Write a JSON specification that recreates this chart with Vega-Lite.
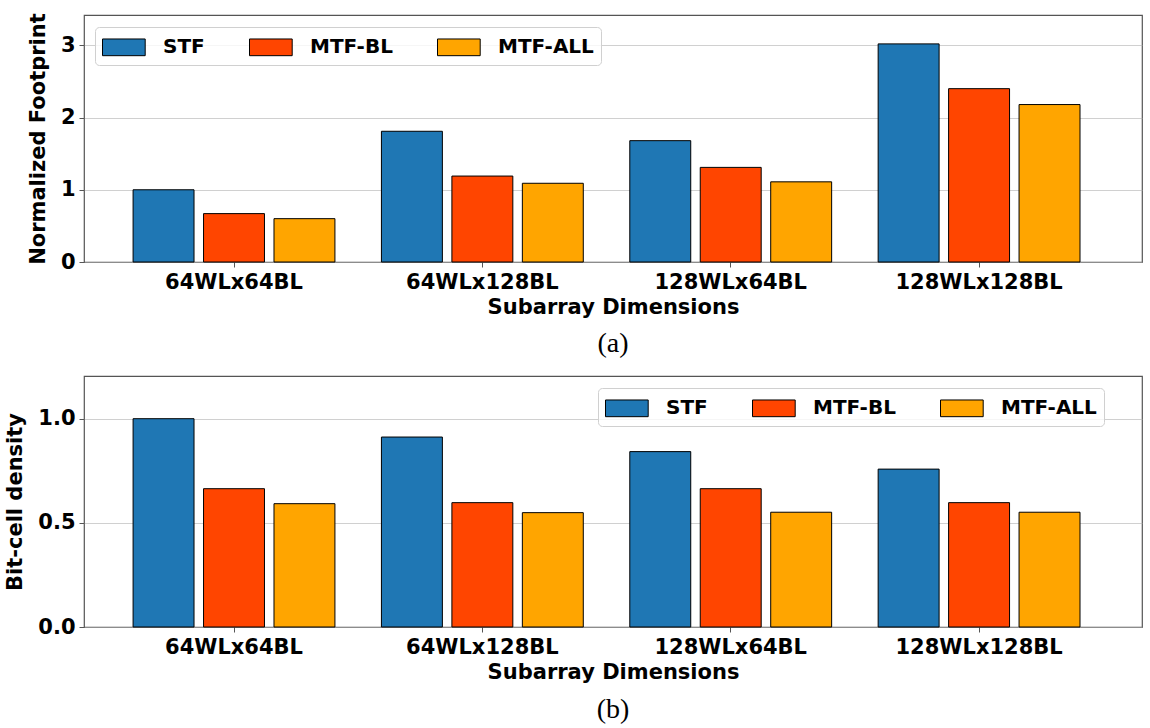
{
  "$schema": "https://vega.github.io/schema/vega-lite/v6.json",
  "padding": {"left": 4, "top": 12, "right": 5, "bottom": 5},
  "spacing": 16,
  "config": {
    "view": {"stroke": "#555", "strokeWidth": 1.2},
    "font": "DejaVu Sans",
    "axis": {
      "labelFont": "DejaVu Sans", "labelFontWeight": "bold", "labelFontSize": 21, "labelColor": "black",
      "titleFont": "DejaVu Sans", "titleFontWeight": "bold", "titleFontSize": 21, "titleColor": "black",
      "tickColor": "#555", "tickSize": 5, "labelPadding": 4, "titlePadding": 4, "domain": false
    },
    "axisX": {"grid": false, "labelAngle": 0},
    "axisY": {"grid": true, "gridColor": "#b0b0b0", "gridOpacity": 0.6, "zindex": 1, "titlePadding": 12},
    "legend": {
      "orient": "none", "direction": "horizontal", "title": null,
      "symbolType": "M-1,-0.668H2.416V0.668H-1Z", "symbolSize": 625,
      "symbolStrokeColor": "black", "symbolStrokeWidth": 1, "symbolOpacity": 1,
      "labelFont": "DejaVu Sans", "labelFontWeight": "bold", "labelFontSize": 20, "labelColor": "black",
      "labelOffset": 35, "columnPadding": 42, "padding": 7,
      "strokeColor": "#d0d0d0", "fillColor": "rgba(255,255,255,0.8)", "cornerRadius": 4, "zindex": 2
    },
    "title": {"font": "Liberation Serif", "fontSize": 28, "fontWeight": "normal", "color": "black", "orient": "bottom", "anchor": "middle"}
  },
  "vconcat": [
    {
      "width": 1058, "height": 247,
      "title": {"text": "(a)", "orient": "bottom", "offset": 13},
      "data": {"values": [
        {"dim": "64WLx64BL", "series": "STF", "value": 1.0},
        {"dim": "64WLx64BL", "series": "MTF-BL", "value": 0.67},
        {"dim": "64WLx64BL", "series": "MTF-ALL", "value": 0.60},
        {"dim": "64WLx128BL", "series": "STF", "value": 1.81},
        {"dim": "64WLx128BL", "series": "MTF-BL", "value": 1.19},
        {"dim": "64WLx128BL", "series": "MTF-ALL", "value": 1.09},
        {"dim": "128WLx64BL", "series": "STF", "value": 1.68},
        {"dim": "128WLx64BL", "series": "MTF-BL", "value": 1.31},
        {"dim": "128WLx64BL", "series": "MTF-ALL", "value": 1.11},
        {"dim": "128WLx128BL", "series": "STF", "value": 3.02},
        {"dim": "128WLx128BL", "series": "MTF-BL", "value": 2.40},
        {"dim": "128WLx128BL", "series": "MTF-ALL", "value": 2.18}
      ]},
      "mark": {"type": "bar", "stroke": "black", "strokeWidth": 1},
      "encoding": {
        "x": {"field": "dim", "type": "nominal", "sort": ["64WLx64BL", "64WLx128BL", "128WLx64BL", "128WLx128BL"],
              "scale": {"paddingInner": 0, "paddingOuter": 0.13, "align": 0.4},
              "axis": {"title": "Subarray Dimensions"}},
        "xOffset": {"field": "series", "type": "nominal", "sort": ["STF", "MTF-BL", "MTF-ALL"],
                    "scale": {"paddingInner": 0.135, "paddingOuter": 0.33}},
        "y": {"field": "value", "type": "quantitative", "scale": {"domain": [0, 3.42], "nice": false},
              "axis": {"values": [0, 1, 2, 3], "format": "d", "title": "Normalized Footprint"}},
        "color": {"field": "series", "type": "nominal", "sort": ["STF", "MTF-BL", "MTF-ALL"],
                  "scale": {"domain": ["STF", "MTF-BL", "MTF-ALL"], "range": ["#1f77b4", "#ff4500", "#ffa500"]},
                  "legend": {"legendX": 11, "legendY": 12}}
      }
    },
    {
      "width": 1058, "height": 251,
      "title": {"text": "(b)", "orient": "bottom", "offset": 14},
      "data": {"values": [
        {"dim": "64WLx64BL", "series": "STF", "value": 1.0},
        {"dim": "64WLx64BL", "series": "MTF-BL", "value": 0.664},
        {"dim": "64WLx64BL", "series": "MTF-ALL", "value": 0.592},
        {"dim": "64WLx128BL", "series": "STF", "value": 0.912},
        {"dim": "64WLx128BL", "series": "MTF-BL", "value": 0.597},
        {"dim": "64WLx128BL", "series": "MTF-ALL", "value": 0.549},
        {"dim": "128WLx64BL", "series": "STF", "value": 0.842},
        {"dim": "128WLx64BL", "series": "MTF-BL", "value": 0.664},
        {"dim": "128WLx64BL", "series": "MTF-ALL", "value": 0.551},
        {"dim": "128WLx128BL", "series": "STF", "value": 0.758},
        {"dim": "128WLx128BL", "series": "MTF-BL", "value": 0.597},
        {"dim": "128WLx128BL", "series": "MTF-ALL", "value": 0.551}
      ]},
      "mark": {"type": "bar", "stroke": "black", "strokeWidth": 1},
      "encoding": {
        "x": {"field": "dim", "type": "nominal", "sort": ["64WLx64BL", "64WLx128BL", "128WLx64BL", "128WLx128BL"],
              "scale": {"paddingInner": 0, "paddingOuter": 0.13, "align": 0.4},
              "axis": {"title": "Subarray Dimensions"}},
        "xOffset": {"field": "series", "type": "nominal", "sort": ["STF", "MTF-BL", "MTF-ALL"],
                    "scale": {"paddingInner": 0.135, "paddingOuter": 0.33}},
        "y": {"field": "value", "type": "quantitative", "scale": {"domain": [0, 1.205], "nice": false},
              "axis": {"values": [0, 0.5, 1.0], "format": ".1f", "title": "Bit-cell density"}},
        "color": {"field": "series", "type": "nominal", "sort": ["STF", "MTF-BL", "MTF-ALL"],
                  "scale": {"domain": ["STF", "MTF-BL", "MTF-ALL"], "range": ["#1f77b4", "#ff4500", "#ffa500"]},
                  "legend": {"legendX": 514, "legendY": 12}}
      }
    }
  ],
  "resolve": {"scale": {"color": "independent", "x": "independent", "y": "independent", "xOffset": "independent"}, "legend": {"color": "independent"}}
}
